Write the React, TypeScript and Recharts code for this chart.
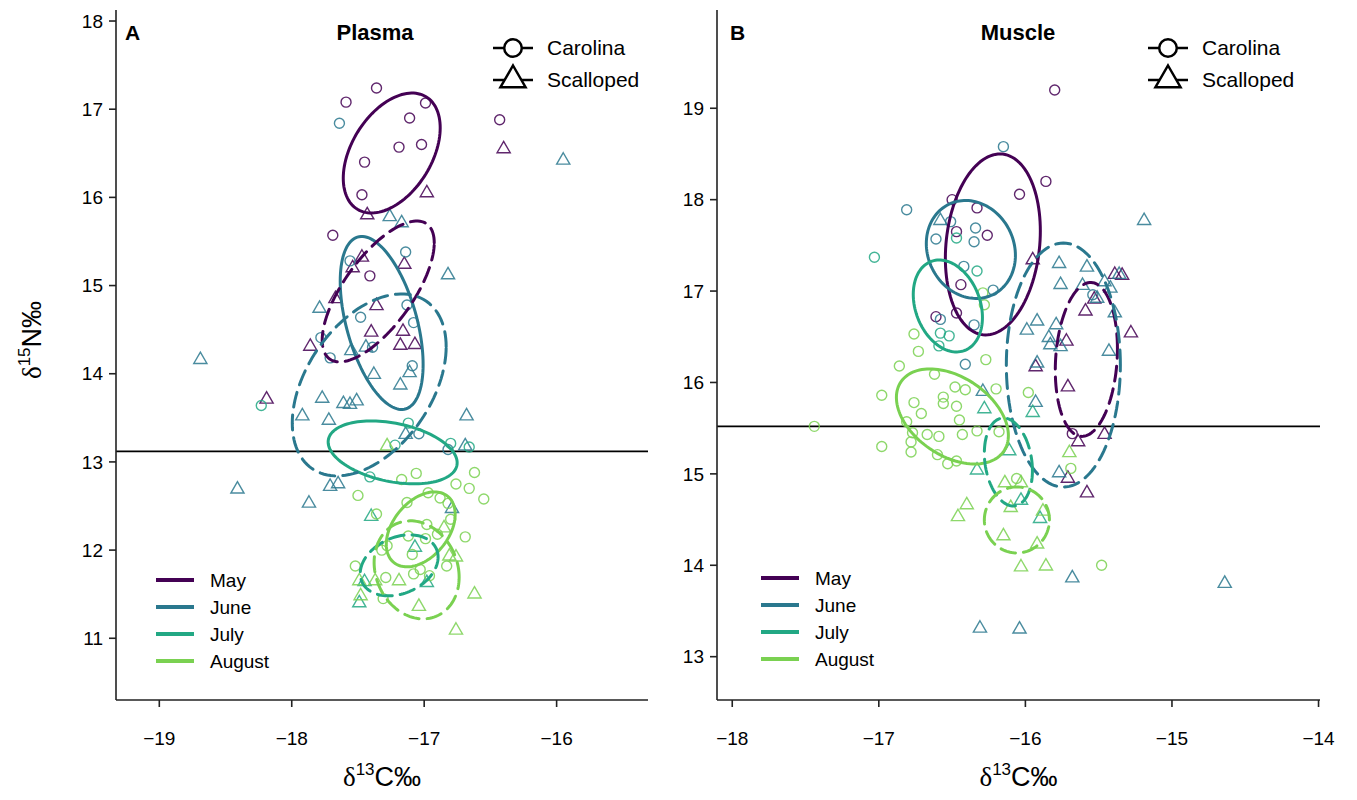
import React from 'react'
import { ScatterChart, Scatter, XAxis, YAxis, ReferenceLine, Legend } from 'recharts'

const HEIGHT = 790
const SANS = '"Liberation Sans", Arial, Helvetica, sans-serif'
const SERIF = '"Liberation Serif", "DejaVu Serif", serif'

const MONTHS = ['May', 'June', 'July', 'August']
const MONTH_COLORS = ['#440154', '#2A788E', '#22A884', '#7AD151']
const SPECIES = ['Carolina', 'Scalloped']

type Pt = [number, number]

// ---- Plasma: [d13C, d15N]
const plasmaMayCarolina: Pt[] = [
  [-17.59, 17.08], [-17.36, 17.24], [-16.99, 17.07], [-17.11, 16.9], [-17.19, 16.57],
  [-17.02, 16.6], [-17.45, 16.4], [-17.47, 16.03], [-16.43, 16.88], [-17.69, 15.57],
  [-17.41, 15.11],
]
const plasmaMayScalloped: Pt[] = [
  [-16.4, 16.55], [-16.98, 16.05], [-17.43, 15.8], [-17.47, 15.32], [-17.15, 15.24],
  [-17.54, 15.2], [-17.67, 14.85], [-17.36, 14.77], [-17.4, 14.47], [-17.16, 14.48],
  [-17.18, 14.32], [-17.07, 14.33], [-17.86, 14.31], [-18.19, 13.71],
]
const plasmaJuneCarolina: Pt[] = [
  [-17.64, 16.84], [-17.14, 15.38], [-17.56, 15.28], [-17.13, 14.78], [-17.48, 14.64],
  [-17.08, 14.58], [-17.78, 14.41], [-17.39, 14.3], [-17.71, 14.18], [-17.09, 14.09],
  [-17.04, 13.32], [-16.82, 13.14],
]
const plasmaJuneScalloped: Pt[] = [
  [-15.95, 16.42], [-17.26, 15.78], [-17.17, 15.71], [-16.82, 15.12], [-17.79, 14.74],
  [-17.55, 14.26], [-17.44, 14.3], [-18.69, 14.16], [-17.38, 13.99], [-17.11, 14.01],
  [-17.18, 13.87], [-17.77, 13.72], [-17.61, 13.66], [-17.56, 13.65], [-17.51, 13.69],
  [-17.92, 13.52], [-17.72, 13.47], [-16.68, 13.52], [-17.14, 13.31], [-16.69, 13.18],
  [-17.71, 12.72], [-17.65, 12.75], [-17.87, 12.53], [-18.41, 12.69], [-16.79, 12.47],
]
const plasmaJulyCarolina: Pt[] = [
  [-18.23, 13.64], [-17.12, 13.44], [-17.22, 13.19], [-16.8, 13.21], [-16.66, 13.17],
  [-17.41, 12.83],
]
const plasmaJulyScalloped: Pt[] = [
  [-17.4, 12.38], [-17.07, 12.03], [-17.45, 11.64], [-16.98, 11.63], [-17.49, 11.4],
]
const plasmaAugustCarolina: Pt[] = [
  [-17.5, 12.62], [-17.36, 12.41], [-17.17, 12.8], [-17.06, 12.87], [-16.62, 12.88],
  [-16.76, 12.75], [-16.66, 12.7], [-16.55, 12.58], [-17.13, 12.54], [-16.97, 12.65],
  [-16.88, 12.59], [-16.82, 12.53], [-16.8, 12.35], [-16.98, 12.29], [-16.9, 12.18],
  [-16.69, 12.15], [-17.12, 12.16], [-16.99, 12.13], [-17.28, 12.05], [-17.32, 12.0],
  [-17.09, 11.95], [-16.83, 11.82], [-17.52, 11.82], [-17.03, 11.78], [-17.08, 11.73],
  [-17.29, 11.69], [-16.96, 11.71], [-17.31, 11.45],
]
const plasmaAugustScalloped: Pt[] = [
  [-17.28, 13.18], [-16.85, 12.25], [-16.81, 11.93], [-16.76, 11.92], [-17.49, 11.65],
  [-17.37, 11.65], [-17.19, 11.65], [-16.62, 11.5], [-17.48, 11.48], [-17.04, 11.36],
  [-16.76, 11.09],
]

// ---- Muscle: [d13C, d15N]
const muscleMayCarolina: Pt[] = [
  [-15.8, 19.2], [-15.86, 18.2], [-16.04, 18.06], [-16.5, 18.0], [-16.33, 17.91],
  [-16.47, 17.65], [-16.26, 17.61], [-16.44, 17.07], [-16.61, 16.72], [-16.47, 16.76],
  [-15.68, 15.44],
]
const muscleMayScalloped: Pt[] = [
  [-15.95, 17.34], [-15.39, 17.18], [-15.34, 17.17], [-15.53, 16.91], [-15.59, 16.78],
  [-15.28, 16.54], [-15.72, 16.45], [-15.93, 16.17], [-15.71, 15.95], [-15.64, 15.35],
  [-15.46, 15.43], [-15.71, 14.95], [-15.58, 14.79],
]
const muscleJuneCarolina: Pt[] = [
  [-16.15, 18.58], [-16.81, 17.89], [-16.51, 17.76], [-16.34, 17.69], [-16.61, 17.57],
  [-16.35, 17.54], [-16.42, 17.27], [-16.22, 17.01], [-16.58, 16.69], [-16.35, 16.63],
  [-16.41, 16.2], [-15.54, 16.96],
]
const muscleJuneScalloped: Pt[] = [
  [-16.58, 17.77], [-15.19, 17.77], [-15.77, 17.3], [-15.58, 17.26], [-15.36, 17.18],
  [-15.76, 17.07], [-15.61, 17.06], [-15.46, 17.1], [-15.42, 17.03], [-15.51, 16.92],
  [-15.39, 16.76], [-15.92, 16.67], [-15.99, 16.57], [-15.79, 16.63], [-15.84, 16.49],
  [-15.83, 16.41], [-15.76, 16.39], [-15.43, 16.34], [-15.92, 16.21], [-15.93, 15.78],
  [-16.29, 15.9], [-15.77, 15.01], [-15.68, 13.86], [-14.64, 13.8], [-16.04, 13.3],
  [-16.31, 13.31],
]
const muscleJulyCarolina: Pt[] = [
  [-17.03, 17.37], [-16.47, 17.58], [-16.33, 17.22], [-16.58, 16.54], [-16.52, 16.51],
  [-16.59, 16.4],
]
const muscleJulyScalloped: Pt[] = [
  [-16.28, 15.71], [-15.95, 15.67], [-16.11, 15.25], [-16.33, 15.04], [-16.03, 14.71],
  [-15.9, 14.51],
]
const muscleAugustCarolina: Pt[] = [
  [-16.29, 16.98], [-16.28, 16.85], [-16.76, 16.53], [-16.73, 16.34], [-16.27, 16.25],
  [-16.86, 16.18], [-16.62, 16.09], [-16.48, 15.95], [-16.41, 15.92], [-16.2, 15.93],
  [-16.98, 15.86], [-16.56, 15.84], [-16.56, 15.77], [-16.76, 15.78], [-16.47, 15.74],
  [-16.71, 15.66], [-16.45, 15.59], [-16.81, 15.57], [-17.44, 15.52], [-16.77, 15.45],
  [-16.67, 15.43], [-16.59, 15.41], [-16.43, 15.43], [-16.33, 15.47], [-16.18, 15.46],
  [-16.98, 15.3], [-16.78, 15.35], [-16.78, 15.24], [-16.6, 15.21], [-16.53, 15.11],
  [-16.47, 15.14], [-15.98, 15.89], [-15.69, 15.06], [-16.06, 14.95], [-15.48, 14.0],
]
const muscleAugustScalloped: Pt[] = [
  [-15.7, 15.23], [-16.14, 14.9], [-16.03, 14.9], [-16.4, 14.66], [-16.46, 14.53],
  [-16.1, 14.63], [-15.88, 14.59], [-16.15, 14.32], [-15.92, 14.23], [-16.03, 13.98],
  [-15.86, 13.99],
]

// standard ellipses, May..August: [centre x, centre y, half-range x, half-range y, correlation]
const plasmaEllipsesCarolina = [
  [-17.245, 16.503, 0.366, 0.68, 0.42],
  [-17.321, 14.576, 0.313, 0.981, -0.48],
  [-17.238, 13.108, 0.487, 0.357, -0.33],
  [-17.026, 12.235, 0.26, 0.425, 0.4],
]
const plasmaEllipsesScalloped = [
  [-17.347, 14.933, 0.423, 0.799, 0.69],
  [-17.415, 13.873, 0.581, 1.032, 0.42],
  [-17.189, 11.827, 0.294, 0.346, 0.27],
  [-17.057, 11.776, 0.321, 0.556, -0.15],
]
const muscleEllipsesCarolina = [
  [-16.222, 17.51, 0.324, 0.99, 0.15],
  [-16.372, 17.455, 0.304, 0.536, -0.12],
  [-16.529, 16.837, 0.236, 0.503, -0.25],
  [-16.498, 15.628, 0.382, 0.52, -0.4],
]
const muscleEllipsesScalloped = [
  [-15.584, 16.252, 0.212, 0.842, 0.14],
  [-15.741, 16.191, 0.389, 1.335, 0],
  [-16.116, 15.13, 0.164, 0.481, -0.2],
  [-16.058, 14.496, 0.222, 0.361, 0],
]

const plasmaXTicks = [-19, -18, -17, -16]
const plasmaYTicks = [11, 12, 13, 14, 15, 16, 17, 18]
const muscleXTicks = [-18, -17, -16, -15, -14]
const muscleYTicks = [13, 14, 15, 16, 17, 18, 19]
const plasmaLine = 13.12
const muscleLine = 15.52

const toXY = (pts: Pt[]) => pts.map(([x, y]) => ({ x, y }))

// outline of an ellipse with given bounding half-ranges and correlation
const ellipseOutline = ([cx, cy, sx, sy, rho]: number[]) => {
  const s = Math.sqrt(1 - rho * rho)
  const out = []
  for (let i = 0; i <= 120; i++) {
    const t = (2 * Math.PI * i) / 120
    out.push({ x: cx + sx * Math.cos(t), y: cy + sy * (rho * Math.cos(t) + s * Math.sin(t)) })
  }
  return out
}

const minus = (v: number) => String(v).replace('-', '\u2212')

const circleShape = (color: string) => (p: any) => (
  <circle cx={p.cx} cy={p.cy} r={5} fill="none" stroke={color} strokeOpacity={0.85} strokeWidth={1.4} />
)
const triangleShape = (color: string) => (p: any) => {
  const r = 7.6
  const h = r * 0.866
  return (
    <path
      d={`M${p.cx},${p.cy - r}L${p.cx + h},${p.cy + r / 2}L${p.cx - h},${p.cy + r / 2}Z`}
      fill="none"
      stroke={color}
      strokeOpacity={0.85}
      strokeWidth={1.4}
    />
  )
}
const noDot = () => <g />

const DeltaText = ({ x, y, iso, el, rotate }: any) => (
  <text
    x={x}
    y={y}
    textAnchor="middle"
    fontSize={27}
    fontFamily={SANS}
    fill="#000"
    transform={rotate ? `rotate(-90, ${x}, ${y})` : undefined}
  >
    <tspan fontFamily={SERIF}>δ</tspan>
    <tspan fontSize={17} dy={-11}>{iso}</tspan>
    <tspan dy={11}>{el}‰</tspan>
  </text>
)

const XTitle = ({ viewBox }: any) => (
  <DeltaText x={viewBox.x + viewBox.width / 2} y={viewBox.y + 86} iso="13" el="C" />
)
const YTitle = ({ viewBox }: any) => <DeltaText x={viewBox.x + 33} y={332} iso="15" el="N" rotate />

const Overlay = ({ width, letter, letterX, title, titleX, keyX, monthX, monthY }: any) => {
  const r = 14.5
  const h = r * 0.866
  return (
    <svg width={width} height={HEIGHT} style={{ display: 'block' }} fontFamily={SANS}>
      <text x={letterX} y={32} fontSize={21} fontWeight="bold" fill="#000">{letter}</text>
      <text x={titleX} y={32} fontSize={22} fontWeight="bold" fill="#000" textAnchor="middle">{title}</text>
      <line x1={keyX} x2={keyX + 40} y1={40} y2={40} stroke="#000" strokeWidth={2.5} />
      <circle cx={keyX + 20} cy={40} r={8.8} fill="#fff" stroke="#000" strokeWidth={2.5} />
      <line x1={keyX} x2={keyX + 40} y1={72} y2={72} stroke="#000" strokeWidth={2.5} />
      <path
        d={`M${keyX + 20},${72 - r}L${keyX + 20 + h},${72 + r / 2}L${keyX + 20 - h},${72 + r / 2}Z`}
        fill="#fff"
        stroke="#000"
        strokeWidth={2.5}
      />
      {SPECIES.map((s, i) => (
        <text key={s} x={keyX + 54} y={47 + i * 32} fontSize={21} fill="#000">{s}</text>
      ))}
      {MONTHS.map((m, i) => (
        <g key={m}>
          <line x1={monthX} x2={monthX + 38} y1={monthY + i * 27} y2={monthY + i * 27} stroke={MONTH_COLORS[i]} strokeWidth={4} />
          <text x={monthX + 54} y={monthY + i * 27 + 6.5} fontSize={19} fill="#000">{m}</text>
        </g>
      ))}
    </svg>
  )
}

const axisStyle = { stroke: '#222', strokeWidth: 1.6 }

const Panel = (props: any) => {
  const {
    width, yWidth, right, xDomain, xTicks, yDomain, yTicks, hLine, points, ellipses, yTitle, overlay,
  } = props
  return (
    <ScatterChart width={width} height={HEIGHT} margin={{ top: 2, right, bottom: 0, left: 0 }}>
      <XAxis
        type="number"
        dataKey="x"
        domain={xDomain}
        ticks={xTicks}
        interval={0}
        allowDataOverflow
        height={98}
        tickSize={7}
        tickMargin={25}
        tickFormatter={minus}
        axisLine={axisStyle}
        tickLine={axisStyle}
        tick={{ fontSize: 19, fill: '#000', fontFamily: SANS }}
        label={<XTitle />}
      />
      <YAxis
        type="number"
        dataKey="y"
        domain={yDomain}
        ticks={yTicks}
        interval={0}
        allowDataOverflow
        width={yWidth}
        tickSize={7}
        tickMargin={6}
        axisLine={axisStyle}
        tickLine={axisStyle}
        tick={{ fontSize: 19, fill: '#000', fontFamily: SANS }}
        label={yTitle ? <YTitle /> : undefined}
      />
      <ReferenceLine y={hLine} stroke="#000" strokeWidth={1.6} />
      {points.map((pair: Pt[][], m: number) =>
        pair.map((pts, s) => (
          <Scatter
            key={`pts-${m}-${s}`}
            name={`${MONTHS[m]} ${SPECIES[s]}`}
            data={toXY(pts)}
            shape={s === 0 ? circleShape(MONTH_COLORS[m]) : triangleShape(MONTH_COLORS[m])}
            isAnimationActive={false}
          />
        )),
      )}
      {ellipses.map((set: number[][], s: number) =>
        set.map((e, m) => (
          <Scatter
            key={`ell-${m}-${s}`}
            data={ellipseOutline(e)}
            shape={noDot}
            line={{
              stroke: MONTH_COLORS[m],
              strokeWidth: 3,
              strokeDasharray: s === 1 ? '15 8' : undefined,
              strokeLinecap: 'round',
            }}
            isAnimationActive={false}
          />
        )),
      )}
      <Legend
        layout="vertical"
        align="center"
        verticalAlign="middle"
        wrapperStyle={{ left: 0, top: 0, width, height: HEIGHT, pointerEvents: 'none' }}
        content={() => overlay}
      />
    </ScatterChart>
  )
}

const App = () => (
  <div style={{ display: 'flex' }}>
    <Panel
      width={660}
      yWidth={108}
      right={20}
      xDomain={[-19.327, -15.31]}
      xTicks={plasmaXTicks}
      yDomain={[10.3, 18.125]}
      yTicks={plasmaYTicks}
      hLine={plasmaLine}
      yTitle
      points={[
        [plasmaMayCarolina, plasmaMayScalloped],
        [plasmaJuneCarolina, plasmaJuneScalloped],
        [plasmaJulyCarolina, plasmaJulyScalloped],
        [plasmaAugustCarolina, plasmaAugustScalloped],
      ]}
      ellipses={[plasmaEllipsesCarolina, plasmaEllipsesScalloped]}
      overlay={
        <Overlay width={660} letter="A" letterX={117} title="Plasma" titleX={367} keyX={485} monthX={148} monthY={572} />
      }
    />
    <Panel
      width={680}
      yWidth={49}
      right={28}
      xDomain={[-18.104, -13.99]}
      xTicks={muscleXTicks}
      yDomain={[12.526, 20.075]}
      yTicks={muscleYTicks}
      hLine={muscleLine}
      points={[
        [muscleMayCarolina, muscleMayScalloped],
        [muscleJuneCarolina, muscleJuneScalloped],
        [muscleJulyCarolina, muscleJulyScalloped],
        [muscleAugustCarolina, muscleAugustScalloped],
      ]}
      ellipses={[muscleEllipsesCarolina, muscleEllipsesScalloped]}
      overlay={
        <Overlay width={680} letter="B" letterX={62} title="Muscle" titleX={350} keyX={480} monthX={93} monthY={570} />
      }
    />
  </div>
)

export default App
